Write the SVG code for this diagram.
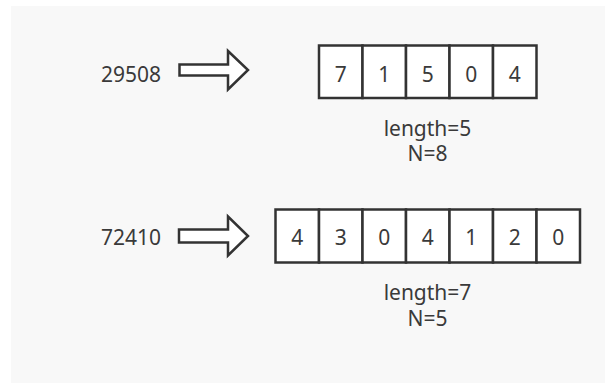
<svg xmlns="http://www.w3.org/2000/svg" width="605" height="383" viewBox="0 0 605 383">
<style>
.t{font-family:"Noto Sans","Open Sans","Liberation Sans",sans-serif;font-size:21px;fill:#3a3a3a;text-anchor:middle}
.l{text-anchor:start}
.cell{fill:#fff;stroke:#333;stroke-width:2.5}
.arr{fill:#fff;stroke:#333;stroke-width:2.5;stroke-linejoin:miter}
</style>
<rect x="0" y="0" width="605" height="383" fill="#fff"/>
<rect x="11" y="6" width="594" height="377" fill="#f8f8f8"/>
<g id="input1"><text class="t l" x="101" y="81.5">29508</text></g>
<g id="input2"><text class="t l" x="101" y="245">72410</text></g>
<g id="connectors">
<path class="arr" d="M179.5,64.5 H228 V51 L248,70 L228,89.5 V75.5 H179.5 Z"/>
<path class="arr" d="M179,229.5 H228 V216.5 L248,236 L228,255.5 V242.5 H179 Z"/>
</g>
<g id="array1">
<rect class="cell" x="319" y="45.5" width="43.5" height="52.5"/>
<rect class="cell" x="362.5" y="45.5" width="43.5" height="52.5"/>
<rect class="cell" x="406" y="45.5" width="43.5" height="52.5"/>
<rect class="cell" x="449.5" y="45.5" width="43.5" height="52.5"/>
<rect class="cell" x="493" y="45.5" width="43.5" height="52.5"/>
<text class="t" x="340.75" y="81.5">7</text>
<text class="t" x="384.25" y="81.5">1</text>
<text class="t" x="427.75" y="81.5">5</text>
<text class="t" x="471.25" y="81.5">0</text>
<text class="t" x="514.75" y="81.5">4</text>
</g>
<g id="label1">
<text class="t" x="427.5" y="136">length=5</text>
<text class="t" x="427.5" y="160.5">N=8</text>
</g>
<g id="array2">
<rect class="cell" x="275.5" y="209.5" width="43.5" height="53"/>
<rect class="cell" x="319" y="209.5" width="43.5" height="53"/>
<rect class="cell" x="362.5" y="209.5" width="43.5" height="53"/>
<rect class="cell" x="406" y="209.5" width="43.5" height="53"/>
<rect class="cell" x="449.5" y="209.5" width="43.5" height="53"/>
<rect class="cell" x="493" y="209.5" width="43.5" height="53"/>
<rect class="cell" x="536.5" y="209.5" width="43.5" height="53"/>
<text class="t" x="297.25" y="245">4</text>
<text class="t" x="340.75" y="245">3</text>
<text class="t" x="384.25" y="245">0</text>
<text class="t" x="427.75" y="245">4</text>
<text class="t" x="471.25" y="245">1</text>
<text class="t" x="514.75" y="245">2</text>
<text class="t" x="558.25" y="245">0</text>
</g>
<g id="label2">
<text class="t" x="427.5" y="300">length=7</text>
<text class="t" x="427.5" y="325.5">N=5</text>
</g>
</svg>
